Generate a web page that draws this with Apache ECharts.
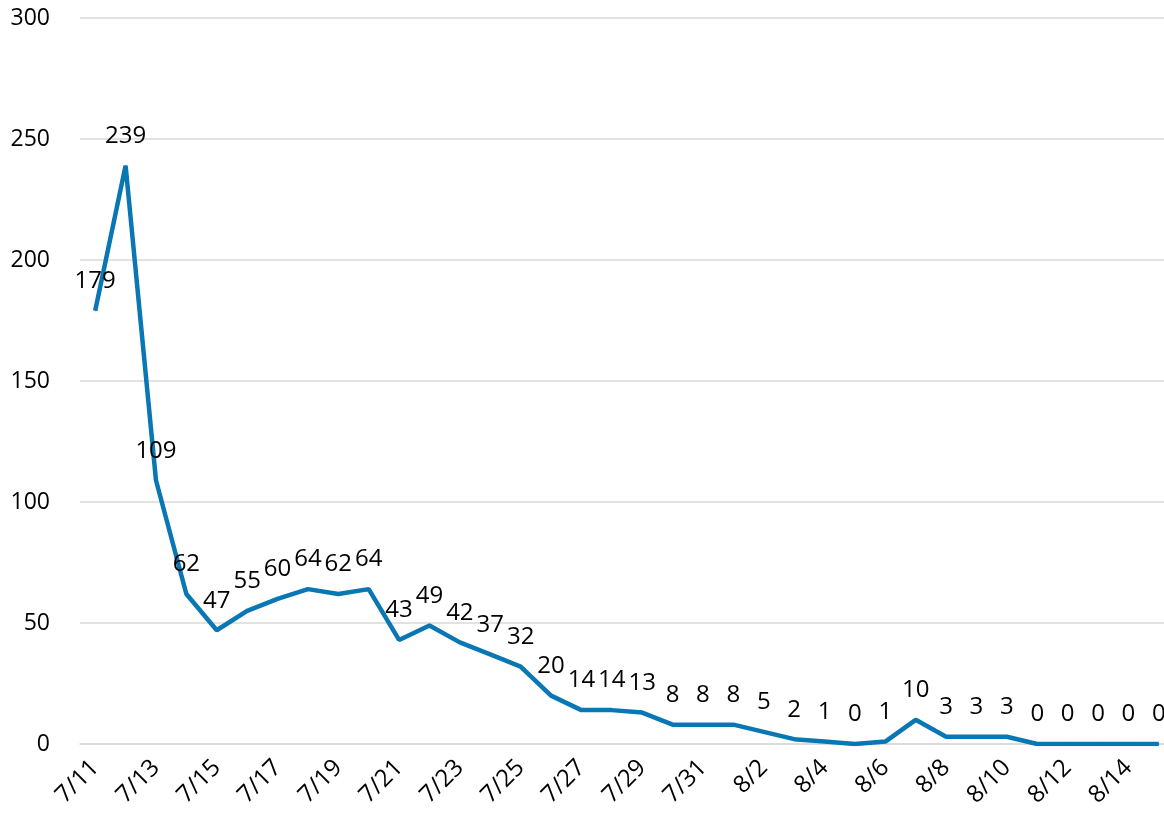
<!DOCTYPE html>
<html>
<head>
<meta charset="utf-8">
<script src="https://cdn.jsdelivr.net/npm/echarts@6/dist/echarts.min.js"></script>
<style>
html,body{margin:0;padding:0;background:#fff;overflow:hidden;}
#chart{width:1174px;height:822px;}
</style>
</head>
<body>
<div id="chart"></div>
<script>
const categories = ['7/11','7/12','7/13','7/14','7/15','7/16','7/17','7/18','7/19','7/20','7/21','7/22','7/23','7/24','7/25','7/26','7/27','7/28','7/29','7/30','7/31','8/1','8/2','8/3','8/4','8/5','8/6','8/7','8/8','8/9','8/10','8/11','8/12','8/13','8/14','8/15'];
const values = [179,239,109,62,47,55,60,64,62,64,43,49,42,37,32,20,14,14,13,8,8,8,5,2,1,0,1,10,3,3,3,0,0,0,0,0];

const chart = echarts.init(document.getElementById('chart'));
const font = '"Open Sans", "Noto Sans", sans-serif';
chart.setOption({
  animation: false,
  grid: {left: 80, top: 18, right: 0, bottom: 78, containLabel: false},
  xAxis: {
    type: 'category',
    data: categories,
    boundaryGap: true,
    axisLine: {show: true, lineStyle: {color: '#d9d9d9', width: 1.5}},
    axisTick: {show: false},
    axisLabel: {interval: 1, rotate: 45, color: '#000', fontSize: 24, fontFamily: font, margin: 20}
  },
  yAxis: {
    type: 'value',
    min: 0, max: 300, interval: 50,
    axisLine: {show: false},
    axisTick: {show: false},
    splitLine: {lineStyle: {color: '#d9d9d9', width: 1.5}},
    axisLabel: {color: '#000', fontSize: 23, fontFamily: font, margin: 30}
  },
  series: [{
    type: 'line',
    data: values,
    symbol: 'circle',
    symbolSize: 1,
    showSymbol: true,
    lineStyle: {color: '#0877b4', width: 4.5},
    itemStyle: {color: '#0877b4'},
    label: {show: true, position: 'top', distance: 17, color: '#000', fontSize: 24, fontFamily: font}
  }]
});
</script>
</body>
</html>
